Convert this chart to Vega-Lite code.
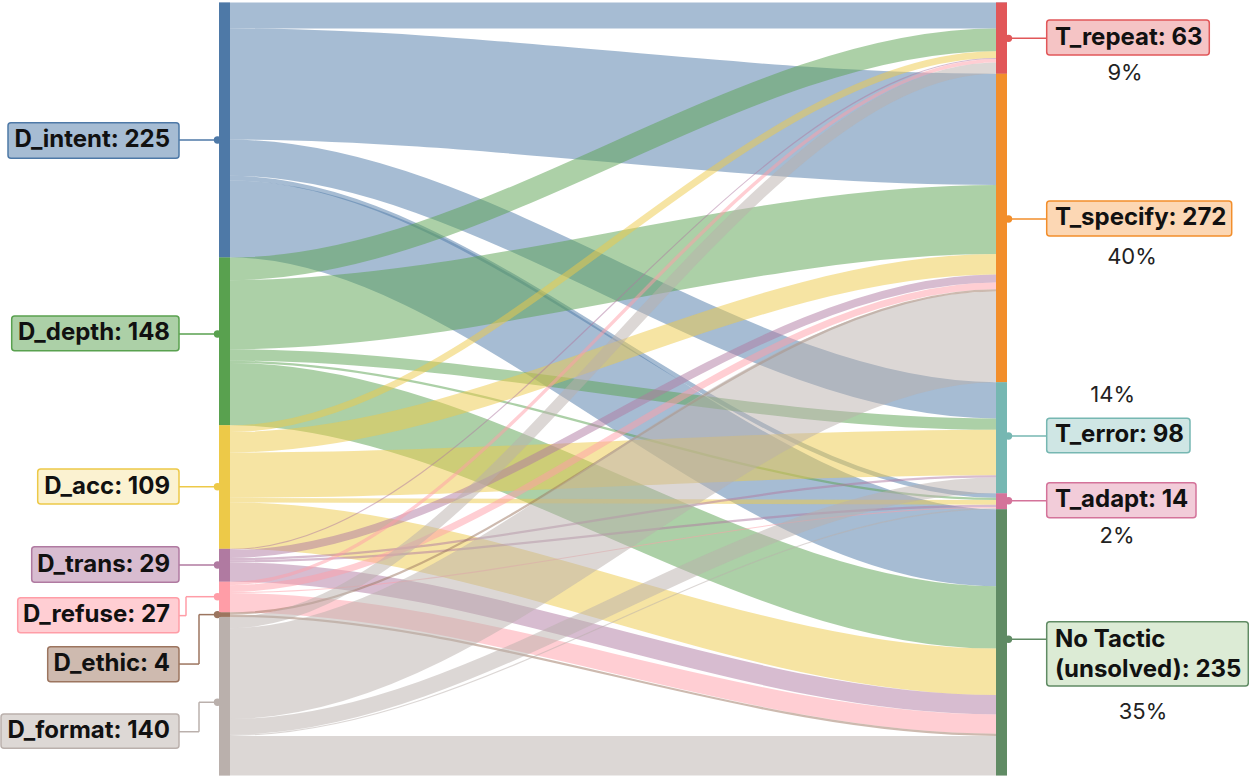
{
  "$schema": "https://vega.github.io/schema/vega-lite/v6.json",
  "width": 1249,
  "height": 777,
  "autosize": {"type": "none"},
  "padding": 0,
  "background": "white",
  "config": {"view": {"stroke": null}, "axis": {"disable": true}, "legend": {"disable": true}},
  "data": {"values": [{}]},
  "datasets": {
    "links": [
      {"s":"D_intent","t":"T_repeat","v":23,"k":0,"y":11.5},{"s":"D_intent","t":"T_repeat","v":23,"k":1,"y":11.5},{"s":"D_intent","t":"T_repeat","v":23,"k":2,"y":11.5},{"s":"D_intent","t":"T_repeat","v":23,"k":3,"y":11.5},
      {"s":"D_intent","t":"T_specify","v":98,"k":0,"y":72},{"s":"D_intent","t":"T_specify","v":98,"k":1,"y":72},{"s":"D_intent","t":"T_specify","v":98,"k":2,"y":112},{"s":"D_intent","t":"T_specify","v":98,"k":3,"y":112},
      {"s":"D_intent","t":"T_error","v":32,"k":0,"y":137},{"s":"D_intent","t":"T_error","v":32,"k":1,"y":137},{"s":"D_intent","t":"T_error","v":32,"k":2,"y":351},{"s":"D_intent","t":"T_error","v":32,"k":3,"y":351},
      {"s":"D_intent","t":"T_adapt","v":4,"k":0,"y":155},{"s":"D_intent","t":"T_adapt","v":4,"k":1,"y":155},{"s":"D_intent","t":"T_adapt","v":4,"k":2,"y":435},{"s":"D_intent","t":"T_adapt","v":4,"k":3,"y":435},
      {"s":"D_intent","t":"No Tactic","v":68,"k":0,"y":191},{"s":"D_intent","t":"No Tactic","v":68,"k":1,"y":191},{"s":"D_intent","t":"No Tactic","v":68,"k":2,"y":481},{"s":"D_intent","t":"No Tactic","v":68,"k":3,"y":481},
      {"s":"D_depth","t":"T_repeat","v":20,"k":0,"y":235},{"s":"D_depth","t":"T_repeat","v":20,"k":1,"y":235},{"s":"D_depth","t":"T_repeat","v":20,"k":2,"y":33},{"s":"D_depth","t":"T_repeat","v":20,"k":3,"y":33},
      {"s":"D_depth","t":"T_specify","v":61,"k":0,"y":275.5},{"s":"D_depth","t":"T_specify","v":61,"k":1,"y":275.5},{"s":"D_depth","t":"T_specify","v":61,"k":2,"y":191.5},{"s":"D_depth","t":"T_specify","v":61,"k":3,"y":191.5},
      {"s":"D_depth","t":"T_error","v":10,"k":0,"y":311},{"s":"D_depth","t":"T_error","v":10,"k":1,"y":311},{"s":"D_depth","t":"T_error","v":10,"k":2,"y":372},{"s":"D_depth","t":"T_error","v":10,"k":3,"y":372},
      {"s":"D_depth","t":"T_adapt","v":2,"k":0,"y":317},{"s":"D_depth","t":"T_adapt","v":2,"k":1,"y":317},{"s":"D_depth","t":"T_adapt","v":2,"k":2,"y":438},{"s":"D_depth","t":"T_adapt","v":2,"k":3,"y":438},
      {"s":"D_depth","t":"No Tactic","v":55,"k":0,"y":345.5},{"s":"D_depth","t":"No Tactic","v":55,"k":1,"y":345.5},{"s":"D_depth","t":"No Tactic","v":55,"k":2,"y":542.5},{"s":"D_depth","t":"No Tactic","v":55,"k":3,"y":542.5},
      {"s":"D_acc","t":"T_repeat","v":6,"k":0,"y":376},{"s":"D_acc","t":"T_repeat","v":6,"k":1,"y":376},{"s":"D_acc","t":"T_repeat","v":6,"k":2,"y":46},{"s":"D_acc","t":"T_repeat","v":6,"k":3,"y":46},
      {"s":"D_acc","t":"T_specify","v":18,"k":0,"y":388},{"s":"D_acc","t":"T_specify","v":18,"k":1,"y":388},{"s":"D_acc","t":"T_specify","v":18,"k":2,"y":231},{"s":"D_acc","t":"T_specify","v":18,"k":3,"y":231},
      {"s":"D_acc","t":"T_error","v":40,"k":0,"y":417},{"s":"D_acc","t":"T_error","v":40,"k":1,"y":417},{"s":"D_acc","t":"T_error","v":40,"k":2,"y":397},{"s":"D_acc","t":"T_error","v":40,"k":3,"y":397},
      {"s":"D_acc","t":"T_adapt","v":4,"k":0,"y":439},{"s":"D_acc","t":"T_adapt","v":4,"k":1,"y":439},{"s":"D_acc","t":"T_adapt","v":4,"k":2,"y":441},{"s":"D_acc","t":"T_adapt","v":4,"k":3,"y":441},
      {"s":"D_acc","t":"No Tactic","v":41,"k":0,"y":461.5},{"s":"D_acc","t":"No Tactic","v":41,"k":1,"y":461.5},{"s":"D_acc","t":"No Tactic","v":41,"k":2,"y":590.5},{"s":"D_acc","t":"No Tactic","v":41,"k":3,"y":590.5},
      {"s":"D_trans","t":"T_repeat","v":1,"k":0,"y":482.5},{"s":"D_trans","t":"T_repeat","v":1,"k":1,"y":482.5},{"s":"D_trans","t":"T_repeat","v":1,"k":2,"y":49.5},{"s":"D_trans","t":"T_repeat","v":1,"k":3,"y":49.5},
      {"s":"D_trans","t":"T_specify","v":7,"k":0,"y":486.5},{"s":"D_trans","t":"T_specify","v":7,"k":1,"y":486.5},{"s":"D_trans","t":"T_specify","v":7,"k":2,"y":243.5},{"s":"D_trans","t":"T_specify","v":7,"k":3,"y":243.5},
      {"s":"D_trans","t":"T_error","v":2,"k":0,"y":491},{"s":"D_trans","t":"T_error","v":2,"k":1,"y":491},{"s":"D_trans","t":"T_error","v":2,"k":2,"y":418},{"s":"D_trans","t":"T_error","v":2,"k":3,"y":418},
      {"s":"D_trans","t":"T_adapt","v":2,"k":0,"y":493},{"s":"D_trans","t":"T_adapt","v":2,"k":1,"y":493},{"s":"D_trans","t":"T_adapt","v":2,"k":2,"y":444},{"s":"D_trans","t":"T_adapt","v":2,"k":3,"y":444},
      {"s":"D_trans","t":"No Tactic","v":17,"k":0,"y":502.5},{"s":"D_trans","t":"No Tactic","v":17,"k":1,"y":502.5},{"s":"D_trans","t":"No Tactic","v":17,"k":2,"y":619.5},{"s":"D_trans","t":"No Tactic","v":17,"k":3,"y":619.5},
      {"s":"D_refuse","t":"T_repeat","v":3,"k":0,"y":512.5},{"s":"D_refuse","t":"T_repeat","v":3,"k":1,"y":512.5},{"s":"D_refuse","t":"T_repeat","v":3,"k":2,"y":51.5},{"s":"D_refuse","t":"T_repeat","v":3,"k":3,"y":51.5},
      {"s":"D_refuse","t":"T_specify","v":6,"k":0,"y":517},{"s":"D_refuse","t":"T_specify","v":6,"k":1,"y":517},{"s":"D_refuse","t":"T_specify","v":6,"k":2,"y":250},{"s":"D_refuse","t":"T_specify","v":6,"k":3,"y":250},
      {"s":"D_refuse","t":"T_adapt","v":1,"k":0,"y":520.5},{"s":"D_refuse","t":"T_adapt","v":1,"k":1,"y":520.5},{"s":"D_refuse","t":"T_adapt","v":1,"k":2,"y":445.5},{"s":"D_refuse","t":"T_adapt","v":1,"k":3,"y":445.5},
      {"s":"D_refuse","t":"No Tactic","v":17,"k":0,"y":529.5},{"s":"D_refuse","t":"No Tactic","v":17,"k":1,"y":529.5},{"s":"D_refuse","t":"No Tactic","v":17,"k":2,"y":636.5},{"s":"D_refuse","t":"No Tactic","v":17,"k":3,"y":636.5},
      {"s":"D_ethic","t":"T_specify","v":2,"k":0,"y":539},{"s":"D_ethic","t":"T_specify","v":2,"k":1,"y":539},{"s":"D_ethic","t":"T_specify","v":2,"k":2,"y":254},{"s":"D_ethic","t":"T_specify","v":2,"k":3,"y":254},
      {"s":"D_ethic","t":"No Tactic","v":2,"k":0,"y":541},{"s":"D_ethic","t":"No Tactic","v":2,"k":1,"y":541},{"s":"D_ethic","t":"No Tactic","v":2,"k":2,"y":646},{"s":"D_ethic","t":"No Tactic","v":2,"k":3,"y":646},
      {"s":"D_format","t":"T_repeat","v":10,"k":0,"y":547},{"s":"D_format","t":"T_repeat","v":10,"k":1,"y":547},{"s":"D_format","t":"T_repeat","v":10,"k":2,"y":58},{"s":"D_format","t":"T_repeat","v":10,"k":3,"y":58},
      {"s":"D_format","t":"T_specify","v":80,"k":0,"y":592},{"s":"D_format","t":"T_specify","v":80,"k":1,"y":592},{"s":"D_format","t":"T_specify","v":80,"k":2,"y":295},{"s":"D_format","t":"T_specify","v":80,"k":3,"y":295},
      {"s":"D_format","t":"T_error","v":14,"k":0,"y":639},{"s":"D_format","t":"T_error","v":14,"k":1,"y":639},{"s":"D_format","t":"T_error","v":14,"k":2,"y":426},{"s":"D_format","t":"T_error","v":14,"k":3,"y":426},
      {"s":"D_format","t":"T_adapt","v":1,"k":0,"y":646.5},{"s":"D_format","t":"T_adapt","v":1,"k":1,"y":646.5},{"s":"D_format","t":"T_adapt","v":1,"k":2,"y":446.5},{"s":"D_format","t":"T_adapt","v":1,"k":3,"y":446.5},
      {"s":"D_format","t":"No Tactic","v":35,"k":0,"y":664.5},{"s":"D_format","t":"No Tactic","v":35,"k":1,"y":664.5},{"s":"D_format","t":"No Tactic","v":35,"k":2,"y":664.5},{"s":"D_format","t":"No Tactic","v":35,"k":3,"y":664.5}
    ],
    "nodes": [
      {"name":"D_intent","side":"L","start":0,"end":225},
      {"name":"D_depth","side":"L","start":225,"end":373},
      {"name":"D_acc","side":"L","start":373,"end":482},
      {"name":"D_trans","side":"L","start":482,"end":511},
      {"name":"D_refuse","side":"L","start":511,"end":538},
      {"name":"D_ethic","side":"L","start":538,"end":542},
      {"name":"D_format","side":"L","start":542,"end":682},
      {"name":"T_repeat","side":"R","start":0,"end":63},
      {"name":"T_specify","side":"R","start":63,"end":335},
      {"name":"T_error","side":"R","start":335,"end":433},
      {"name":"T_adapt","side":"R","start":433,"end":447},
      {"name":"No Tactic","side":"R","start":447,"end":682}
    ]
  },
  "layer": [
    {
      "data": {"name": "links"},
      "mark": {"type": "line", "interpolate": "monotone", "opacity": 0.5, "strokeCap": "butt"},
      "encoding": {
        "x": {"field": "k", "type": "quantitative", "axis": null,
              "scale": {"type": "linear", "domain": [-219, 0, 1, 2, 3, 245], "range": [0, 219, 230, 996, 1007, 1249], "nice": false, "zero": false}},
        "y": {"field": "y", "type": "quantitative", "axis": null,
              "scale": {"type": "linear", "domain": [0, 682], "range": [2.4, 775.6], "nice": false, "zero": false}},
        "color": {"field": "s", "type": "nominal", "legend": null,
                  "scale": {"domain": ["D_intent","D_depth","D_acc","D_trans","D_refuse","D_ethic","D_format","T_repeat","T_specify","T_error","T_adapt","No Tactic"],
                            "range": ["#4e79a7","#59a14f","#edc948","#b07aa1","#ff9da7","#9c755f","#bab0ac","#e15759","#f28e2b","#76b7b2","#d4739a","#608b64"]}},
        "size": {"field": "v", "type": "quantitative", "legend": null,
                 "scale": {"type": "linear", "domain": [0, 682], "range": [0, 773.2], "zero": true, "nice": false}},
        "detail": {"field": "t"}
      }
    },
    {"mark": {"type": "rule", "color": "#4e79a7", "strokeWidth": 1.5}, "encoding": {"x": {"datum": -40}, "x2": {"datum": -1.5}, "y": {"datum": 121.4}}},
    {"mark": {"type": "rule", "color": "#59a14f", "strokeWidth": 1.5}, "encoding": {"x": {"datum": -40}, "x2": {"datum": -1.5}, "y": {"datum": 292.5}}},
    {"mark": {"type": "rule", "color": "#edc948", "strokeWidth": 1.5}, "encoding": {"x": {"datum": -40}, "x2": {"datum": -1.5}, "y": {"datum": 427.2}}},
    {"mark": {"type": "rule", "color": "#b07aa1", "strokeWidth": 1.5}, "encoding": {"x": {"datum": -40}, "x2": {"datum": -1.5}, "y": {"datum": 496.2}}},
    {"mark": {"type": "rule", "color": "#ff9da7", "strokeWidth": 1.5}, "encoding": {"x": {"datum": -40}, "x2": {"datum": -33}, "y": {"datum": 540.9}}},
    {"mark": {"type": "rule", "color": "#ff9da7", "strokeWidth": 1.5}, "encoding": {"x": {"datum": -33}, "y": {"datum": 540.9}, "y2": {"datum": 524.2}}},
    {"mark": {"type": "rule", "color": "#ff9da7", "strokeWidth": 1.5}, "encoding": {"x": {"datum": -33}, "x2": {"datum": -1.5}, "y": {"datum": 524.2}}},
    {"mark": {"type": "rule", "color": "#9c755f", "strokeWidth": 1.5}, "encoding": {"x": {"datum": -40}, "x2": {"datum": -20}, "y": {"datum": 583.6}}},
    {"mark": {"type": "rule", "color": "#9c755f", "strokeWidth": 1.5}, "encoding": {"x": {"datum": -20}, "y": {"datum": 583.6}, "y2": {"datum": 540}}},
    {"mark": {"type": "rule", "color": "#9c755f", "strokeWidth": 1.5}, "encoding": {"x": {"datum": -20}, "x2": {"datum": -1.5}, "y": {"datum": 540}}},
    {"mark": {"type": "rule", "color": "#bab0ac", "strokeWidth": 1.5}, "encoding": {"x": {"datum": -40}, "x2": {"datum": -20}, "y": {"datum": 643.3}}},
    {"mark": {"type": "rule", "color": "#bab0ac", "strokeWidth": 1.5}, "encoding": {"x": {"datum": -20}, "y": {"datum": 643.3}, "y2": {"datum": 617.3}}},
    {"mark": {"type": "rule", "color": "#bab0ac", "strokeWidth": 1.5}, "encoding": {"x": {"datum": -20}, "x2": {"datum": -1.5}, "y": {"datum": 617.3}}},
    {"mark": {"type": "rule", "color": "#e15759", "strokeWidth": 1.5}, "encoding": {"x": {"datum": 4.5}, "x2": {"datum": 43}, "y": {"datum": 31.7}}},
    {"mark": {"type": "rule", "color": "#f28e2b", "strokeWidth": 1.5}, "encoding": {"x": {"datum": 4.5}, "x2": {"datum": 43}, "y": {"datum": 191.1}}},
    {"mark": {"type": "rule", "color": "#76b7b2", "strokeWidth": 1.5}, "encoding": {"x": {"datum": 4.5}, "x2": {"datum": 43}, "y": {"datum": 382.5}}},
    {"mark": {"type": "rule", "color": "#d4739a", "strokeWidth": 1.5}, "encoding": {"x": {"datum": 4.5}, "x2": {"datum": 43}, "y": {"datum": 439.5}}},
    {"mark": {"type": "rule", "color": "#608b64", "strokeWidth": 1.5}, "encoding": {"x": {"datum": 4.5}, "x2": {"datum": 43}, "y": {"datum": 561.8}}},
    {"mark": {"type": "circle", "size": 55, "color": "#4e79a7", "opacity": 1}, "encoding": {"x": {"datum": -1.5}, "y": {"datum": 121.4}}},
    {"mark": {"type": "circle", "size": 55, "color": "#59a14f", "opacity": 1}, "encoding": {"x": {"datum": -1.5}, "y": {"datum": 292.5}}},
    {"mark": {"type": "circle", "size": 55, "color": "#edc948", "opacity": 1}, "encoding": {"x": {"datum": -1.5}, "y": {"datum": 427.2}}},
    {"mark": {"type": "circle", "size": 55, "color": "#b07aa1", "opacity": 1}, "encoding": {"x": {"datum": -1.5}, "y": {"datum": 496.2}}},
    {"mark": {"type": "circle", "size": 55, "color": "#ff9da7", "opacity": 1}, "encoding": {"x": {"datum": -1.5}, "y": {"datum": 524.2}}},
    {"mark": {"type": "circle", "size": 55, "color": "#9c755f", "opacity": 1}, "encoding": {"x": {"datum": -1.5}, "y": {"datum": 540}}},
    {"mark": {"type": "circle", "size": 55, "color": "#bab0ac", "opacity": 1}, "encoding": {"x": {"datum": -1.5}, "y": {"datum": 617.3}}},
    {"mark": {"type": "circle", "size": 55, "color": "#e15759", "opacity": 1}, "encoding": {"x": {"datum": 4.5}, "y": {"datum": 31.7}}},
    {"mark": {"type": "circle", "size": 55, "color": "#f28e2b", "opacity": 1}, "encoding": {"x": {"datum": 4.5}, "y": {"datum": 191.1}}},
    {"mark": {"type": "circle", "size": 55, "color": "#76b7b2", "opacity": 1}, "encoding": {"x": {"datum": 4.5}, "y": {"datum": 382.5}}},
    {"mark": {"type": "circle", "size": 55, "color": "#d4739a", "opacity": 1}, "encoding": {"x": {"datum": 4.5}, "y": {"datum": 439.5}}},
    {"mark": {"type": "circle", "size": 55, "color": "#608b64", "opacity": 1}, "encoding": {"x": {"datum": 4.5}, "y": {"datum": 561.8}}},
    {
      "data": {"name": "nodes"},
      "transform": [{"filter": "datum.side === 'L'"}],
      "mark": {"type": "rect"},
      "encoding": {"x": {"datum": 0}, "x2": {"datum": 1}, "y": {"field": "start", "type": "quantitative"}, "y2": {"field": "end"}, "color": {"field": "name", "type": "nominal", "legend": null}}
    },
    {
      "data": {"name": "nodes"},
      "transform": [{"filter": "datum.side === 'R'"}],
      "mark": {"type": "rect"},
      "encoding": {"x": {"datum": 2}, "x2": {"datum": 3}, "y": {"field": "start", "type": "quantitative"}, "y2": {"field": "end"}, "color": {"field": "name", "type": "nominal", "legend": null}}
    },
    {"mark": {"type": "rect", "fill": "#a6bcd3", "stroke": "#4e79a7", "strokeWidth": 1.5, "cornerRadius": 3}, "encoding": {"x": {"datum": -211}, "x2": {"datum": -40}, "y": {"datum": 106.1}, "y2": {"datum": 137.5}}},
    {"mark": {"type": "rect", "fill": "#acd0a7", "stroke": "#59a14f", "strokeWidth": 1.5, "cornerRadius": 3}, "encoding": {"x": {"datum": -207.3}, "x2": {"datum": -40}, "y": {"datum": 276.6}, "y2": {"datum": 307.2}}},
    {"mark": {"type": "rect", "fill": "#fbf2d1", "stroke": "#edc948", "strokeWidth": 1.5, "cornerRadius": 3}, "encoding": {"x": {"datum": -181.3}, "x2": {"datum": -40}, "y": {"datum": 411.6}, "y2": {"datum": 442.4}}},
    {"mark": {"type": "rect", "fill": "#d8bcd0", "stroke": "#b07aa1", "strokeWidth": 1.5, "cornerRadius": 3}, "encoding": {"x": {"datum": -187.3}, "x2": {"datum": -40}, "y": {"datum": 480.1}, "y2": {"datum": 511.5}}},
    {"mark": {"type": "rect", "fill": "#ffced3", "stroke": "#ff9da7", "strokeWidth": 1.5, "cornerRadius": 3}, "encoding": {"x": {"datum": -201.3}, "x2": {"datum": -40}, "y": {"datum": 525.1}, "y2": {"datum": 556.0}}},
    {"mark": {"type": "rect", "fill": "#cebaaf", "stroke": "#9c755f", "strokeWidth": 1.5, "cornerRadius": 3}, "encoding": {"x": {"datum": -171.3}, "x2": {"datum": -40}, "y": {"datum": 568.3}, "y2": {"datum": 599.2}}},
    {"mark": {"type": "rect", "fill": "#ddd8d5", "stroke": "#bab0ac", "strokeWidth": 1.5, "cornerRadius": 3}, "encoding": {"x": {"datum": -218}, "x2": {"datum": -40}, "y": {"datum": 627.7}, "y2": {"datum": 657.9}}},
    {"mark": {"type": "rect", "fill": "#f5c4c5", "stroke": "#e15759", "strokeWidth": 1.5, "cornerRadius": 3}, "encoding": {"x": {"datum": 42.7}, "x2": {"datum": 205.3}, "y": {"datum": 15.5}, "y2": {"datum": 46.4}}},
    {"mark": {"type": "rect", "fill": "#fcd7b4", "stroke": "#f28e2b", "strokeWidth": 1.5, "cornerRadius": 3}, "encoding": {"x": {"datum": 42.7}, "x2": {"datum": 227.7}, "y": {"datum": 175.2}, "y2": {"datum": 206.0}}},
    {"mark": {"type": "rect", "fill": "#cfe6e4", "stroke": "#76b7b2", "strokeWidth": 1.5, "cornerRadius": 3}, "encoding": {"x": {"datum": 42.7}, "x2": {"datum": 186}, "y": {"datum": 366.8}, "y2": {"datum": 397.2}}},
    {"mark": {"type": "rect", "fill": "#f2ccd9", "stroke": "#d4739a", "strokeWidth": 1.5, "cornerRadius": 3}, "encoding": {"x": {"datum": 42.7}, "x2": {"datum": 192}, "y": {"datum": 423.6}, "y2": {"datum": 454.5}}},
    {"mark": {"type": "rect", "fill": "#dcebd5", "stroke": "#608b64", "strokeWidth": 1.5, "cornerRadius": 3}, "encoding": {"x": {"datum": 42.7}, "x2": {"datum": 244.3}, "y": {"datum": 546.2}, "y2": {"datum": 603.0}}},
    {"mark": {"type": "text", "text": "D_intent: 225", "align": "right", "baseline": "middle", "font": "Inter", "fontSize": 24, "fontWeight": "bold", "color": "#111111"}, "encoding": {"x": {"datum": -49}, "y": {"datum": 121.8}}},
    {"mark": {"type": "text", "text": "D_depth: 148", "align": "right", "baseline": "middle", "font": "Inter", "fontSize": 24, "fontWeight": "bold", "color": "#111111"}, "encoding": {"x": {"datum": -49}, "y": {"datum": 291.9}}},
    {"mark": {"type": "text", "text": "D_acc: 109", "align": "right", "baseline": "middle", "font": "Inter", "fontSize": 24, "fontWeight": "bold", "color": "#111111"}, "encoding": {"x": {"datum": -49}, "y": {"datum": 427}}},
    {"mark": {"type": "text", "text": "D_trans: 29", "align": "right", "baseline": "middle", "font": "Inter", "fontSize": 24, "fontWeight": "bold", "color": "#111111"}, "encoding": {"x": {"datum": -49}, "y": {"datum": 495.8}}},
    {"mark": {"type": "text", "text": "D_refuse: 27", "align": "right", "baseline": "middle", "font": "Inter", "fontSize": 24, "fontWeight": "bold", "color": "#111111"}, "encoding": {"x": {"datum": -49}, "y": {"datum": 540.5}}},
    {"mark": {"type": "text", "text": "D_ethic: 4", "align": "right", "baseline": "middle", "font": "Inter", "fontSize": 24, "fontWeight": "bold", "color": "#111111"}, "encoding": {"x": {"datum": -49}, "y": {"datum": 583.7}}},
    {"mark": {"type": "text", "text": "D_format: 140", "align": "right", "baseline": "middle", "font": "Inter", "fontSize": 24, "fontWeight": "bold", "color": "#111111"}, "encoding": {"x": {"datum": -49}, "y": {"datum": 642.8}}},
    {"mark": {"type": "text", "text": "T_repeat: 63", "align": "left", "baseline": "middle", "font": "Inter", "fontSize": 24, "fontWeight": "bold", "color": "#111111"}, "encoding": {"x": {"datum": 51}, "y": {"datum": 31.0}}},
    {"mark": {"type": "text", "text": "T_specify: 272", "align": "left", "baseline": "middle", "font": "Inter", "fontSize": 24, "fontWeight": "bold", "color": "#111111"}, "encoding": {"x": {"datum": 51}, "y": {"datum": 190.6}}},
    {"mark": {"type": "text", "text": "T_error: 98", "align": "left", "baseline": "middle", "font": "Inter", "fontSize": 24, "fontWeight": "bold", "color": "#111111"}, "encoding": {"x": {"datum": 51}, "y": {"datum": 382}}},
    {"mark": {"type": "text", "text": "T_adapt: 14", "align": "left", "baseline": "middle", "font": "Inter", "fontSize": 24, "fontWeight": "bold", "color": "#111111"}, "encoding": {"x": {"datum": 51}, "y": {"datum": 439}}},
    {"mark": {"type": "text", "text": "No Tactic", "align": "left", "baseline": "middle", "font": "Inter", "fontSize": 24, "fontWeight": "bold", "color": "#111111"}, "encoding": {"x": {"datum": 51}, "y": {"datum": 562.4}}},
    {"mark": {"type": "text", "text": "(unsolved): 235", "align": "left", "baseline": "middle", "font": "Inter", "fontSize": 24, "fontWeight": "bold", "color": "#111111"}, "encoding": {"x": {"datum": 51}, "y": {"datum": 588.9}}},
    {"mark": {"type": "text", "text": "9%", "align": "center", "baseline": "middle", "font": "Inter", "fontSize": 22, "color": "#222222"}, "encoding": {"x": {"datum": 121}, "y": {"datum": 62.5}}},
    {"mark": {"type": "text", "text": "40%", "align": "center", "baseline": "middle", "font": "Inter", "fontSize": 22, "color": "#222222"}, "encoding": {"x": {"datum": 128}, "y": {"datum": 224.3}}},
    {"mark": {"type": "text", "text": "14%", "align": "center", "baseline": "middle", "font": "Inter", "fontSize": 22, "color": "#222222"}, "encoding": {"x": {"datum": 108.7}, "y": {"datum": 346.3}}},
    {"mark": {"type": "text", "text": "2%", "align": "center", "baseline": "middle", "font": "Inter", "fontSize": 22, "color": "#222222"}, "encoding": {"x": {"datum": 113}, "y": {"datum": 470.7}}},
    {"mark": {"type": "text", "text": "35%", "align": "center", "baseline": "middle", "font": "Inter", "fontSize": 22, "color": "#222222"}, "encoding": {"x": {"datum": 139}, "y": {"datum": 625.6}}}
  ]
}
